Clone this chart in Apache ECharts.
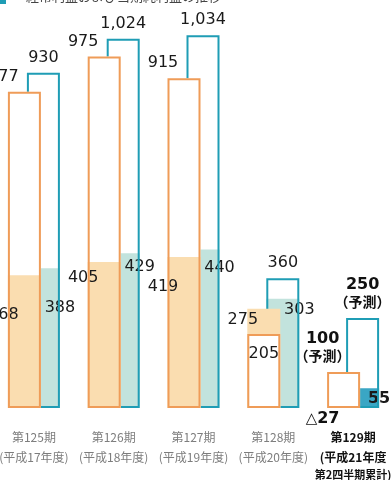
<!DOCTYPE html>
<html>
<head>
<meta charset="utf-8">
<script src="https://cdn.jsdelivr.net/npm/echarts@6/dist/echarts.min.js"></script>
<style>
  html, body { margin: 0; padding: 0; background: #fff; }
  #main { width: 391px; height: 480px; }
</style>
</head>
<body>
<div id="main"></div>
<script>
// 期と年度
var periods = ['第125期', '第126期', '第127期', '第128期', '第129期'];
var periodYears = ['(平成17年度)', '(平成18年度)', '(平成19年度)', '(平成20年度)', '(平成21年度'];
// 橙: 通期(枠) と 第2四半期累計(塗り)
var orangeTotal = [877, 975, 915, 205, 100];
var orangeHalf = [368, 405, 419, 275, -27];
// 青緑: 通期(枠) と 第2四半期累計(塗り)
var tealTotal = [930, 1024, 1034, 360, 250];
var tealHalf = [388, 429, 440, 303, 55];

var FONT = '"DejaVu Sans", sans-serif';
var JP = '"Noto Sans CJK JP", sans-serif';
var last = periods.length - 1;

// label offsets (px from bar top)
var oHalfDy = [40, 16, 30, 11, 11];
var tHalfDy = [40, 13, 18, 11.5, 10.5];

var dom = document.getElementById('main');
var chart = echarts.init(dom);

var yMax = 1100;
var gridTop = 11.45, gridBottom = 72, catW = 399;

function grid(left) {
    return { left: left, width: catW, top: gridTop, bottom: gridBottom, outerBoundsMode: 'none' };
}
function fmt(v) {
    return Math.abs(v).toLocaleString('en-US');
}
var richForecast = {
    b: { fontFamily: FONT, fontSize: 16, fontWeight: 'bold', color: '#111', lineHeight: 17 },
    p: { fontFamily: JP, fontSize: 14, fontWeight: 'bold', color: '#111', lineHeight: 18 }
};

var oFillData = orangeHalf.map(function (v, i) {
    return {
        value: v,
        itemStyle: { color: i === last ? '#F4B676' : '#FADDB0' },
        label: {
            show: true, position: [-4.5, oHalfDy[i]], align: 'center', verticalAlign: 'middle',
            formatter: i === last ? '{t|△}{b|' + fmt(v) + '}' : fmt(v),
            rich: {
                t: { fontFamily: FONT, fontSize: 15, color: '#111' },
                b: { fontFamily: FONT, fontSize: 16, fontWeight: 'bold', color: '#111' }
            }
        }
    };
});
var oLineData = orangeTotal.map(function (v, i) {
    var lbl = { show: true, position: [-4.5, -7], align: 'center', verticalAlign: 'bottom', formatter: fmt(v) };
    if (v < orangeHalf[i]) lbl = { show: true, position: [16.5, 20], align: 'center', verticalAlign: 'middle', formatter: fmt(v) };
    if (i === last) {
        lbl.formatter = '{b|' + fmt(v) + '}\n{p|（予測）}';
        lbl.rich = richForecast;
    }
    return {
        value: v,
        itemStyle: { color: v < orangeHalf[i] ? '#fff' : 'rgba(0,0,0,0)' },
        label: lbl
    };
});
var tFillData = tealHalf.map(function (v, i) {
    return {
        value: v,
        itemStyle: { color: i === last ? '#3AA6C4' : '#C2E3DD' },
        label: {
            show: true, position: [33, tHalfDy[i]], align: 'center', verticalAlign: 'middle',
            formatter: fmt(v),
            fontWeight: i === last ? 'bold' : 'normal'
        }
    };
});
var tLineData = tealTotal.map(function (v, i) {
    var lbl = { show: true, position: [16.5, -7], align: 'center', verticalAlign: 'bottom', formatter: fmt(v) };
    if (i === last) {
        lbl.formatter = '{b|' + fmt(v) + '}\n{p|（予測）}';
        lbl.rich = richForecast;
    }
    return { value: v, label: lbl };
});

var baseLabel = { fontFamily: FONT, fontSize: 16, color: '#1a1a1a' };

option = {
    animation: false,
    backgroundColor: '#fff',
    grid: [grid(-15.5), grid(3.5), grid(-6)],
    xAxis: [
        { type: 'category', gridIndex: 0, data: periods, show: false },
        { type: 'category', gridIndex: 1, data: periods, show: false },
        {
            type: 'category', gridIndex: 2, data: periods,
            axisLine: { show: false }, axisTick: { show: false },
            axisLabel: {
                interval: 0, margin: 19,
                formatter: function (name, i) {
                    if (i === last) return '{a|' + name + '}\n{a|' + periodYears[i] + '}\n{c|第2四半期累計)}';
                    return '{g|' + name + '}\n{g|' + periodYears[i] + '}';
                },
                rich: {
                    g: { fontFamily: JP, fontSize: 12, color: '#7d7d7d', lineHeight: 20 },
                    a: { fontFamily: JP, fontSize: 12, fontWeight: 'bold', color: '#111', lineHeight: 20 },
                    c: { fontFamily: JP, fontSize: 11, fontWeight: 'bold', color: '#111', lineHeight: 16 }
                }
            }
        }
    ],
    yAxis: [0, 1, 2].map(function (g) {
        return { type: 'value', gridIndex: g, min: 0, max: yMax, show: false, splitLine: { show: false } };
    }),
    graphic: [
        { type: 'rect', left: 0, top: -6, shape: { width: 6, height: 10 }, style: { fill: '#1F9DB5' } },
        { type: 'text', left: 26, top: -10, style: { text: '経常利益および当期純利益の推移', font: '13px "Noto Sans CJK JP"', fill: '#444' } }
    ],
    series: [
        {
            name: 'tealFill', type: 'bar', xAxisIndex: 1, yAxisIndex: 1, barWidth: 33, barGap: '-100%', z: 1,
            data: tFillData, label: baseLabel, silent: true
        },
        {
            name: 'tealLine', type: 'bar', xAxisIndex: 1, yAxisIndex: 1, barWidth: 33, barGap: '-100%', z: 2,
            data: tLineData, label: baseLabel, silent: true,
            itemStyle: { color: 'rgba(0,0,0,0)', borderColor: '#1F9DB5', borderWidth: 2 }
        },
        {
            name: 'orangeBase', type: 'bar', xAxisIndex: 0, yAxisIndex: 0, barWidth: 33, barGap: '-100%', z: 3,
            data: orangeTotal, silent: true, itemStyle: { color: '#fff' }
        },
        {
            name: 'orangeFill', type: 'bar', xAxisIndex: 0, yAxisIndex: 0, barWidth: 33, barGap: '-100%', z: 4,
            data: oFillData, label: baseLabel, silent: true
        },
        {
            name: 'orangeLine', type: 'bar', xAxisIndex: 0, yAxisIndex: 0, barWidth: 33, barGap: '-100%', z: 5,
            data: oLineData, label: baseLabel, silent: true,
            itemStyle: { borderColor: '#EF9C58', borderWidth: 2 }
        }
    ]
};
chart.setOption(option);
</script>
</body>
</html>
